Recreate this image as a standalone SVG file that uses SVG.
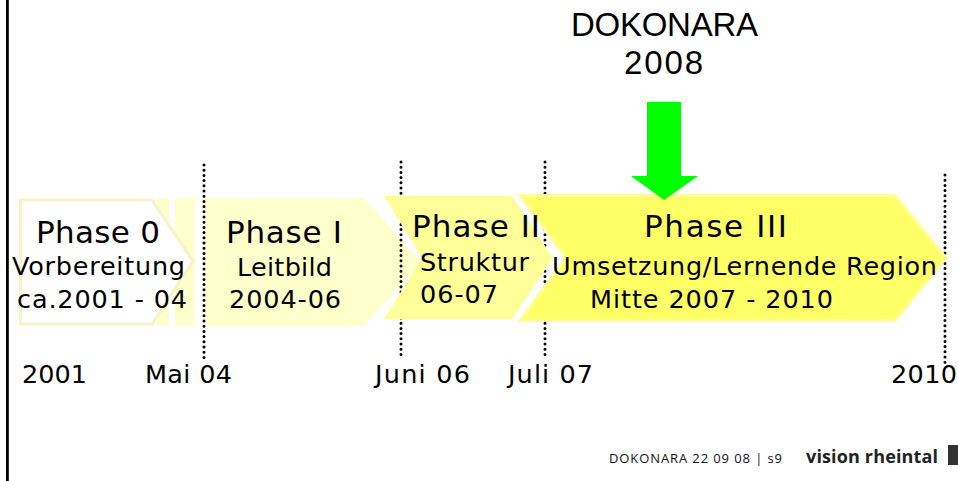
<svg xmlns="http://www.w3.org/2000/svg" width="958" height="481" viewBox="0 0 958 481">
<style>
text{font-family:"DejaVu Sans",Verdana,sans-serif;fill:#000}
.h{font-size:31px}.m{font-size:25.500px}.d{font-size:25.500px}
.a{font-family:"Liberation Sans",Arial,sans-serif;font-size:33px}
.dot{stroke:#000;stroke-width:3;stroke-linecap:round;stroke-dasharray:0 5.200;fill:none}
</style>
<rect width="958" height="481" fill="#fff"/>
<rect x="6" y="0" width="2.800" height="481" fill="#000"/>
<g id="phase-0">
<rect x="157" y="198" width="12" height="128" fill="#ffffcc"/>
<rect x="175" y="198" width="20" height="128" fill="#ffffcc"/>
<polygon points="20.500,200 152,200 193,261 152,324 20.500,324" fill="#fff" stroke="#f6f3c6" stroke-width="3"/>
<text class="h" x="36" y="243" textLength="124">Phase 0</text>
<text class="m" x="12" y="275" textLength="173">Vorbereitung</text>
<text class="m" x="17" y="308" textLength="170">ca.2001 - 04</text>
</g>
<g id="phase-1">
<polygon points="205,198 364,198 421,262 364,326 205,326" fill="#ffffcc"/>
</g>
<g id="connectors">
<line class="dot" x1="204" y1="165" x2="204" y2="360"/>
<line class="dot" x1="401" y1="162" x2="401" y2="358"/>
<line class="dot" x1="545" y1="162" x2="545" y2="358"/>
<line class="dot" x1="945" y1="175" x2="945" y2="364"/>
</g>
<g id="phase-2">
<polygon points="384,196 512,196 553,258 512,319 384,319 422,258" fill="#ffff99"/>
</g>
<g id="phase-3">
<polygon points="520,195.500 895,195.500 946,258 895,320.500 520,320.500 566,258" fill="#ffff66" stroke="#ffff99" stroke-width="3"/>
</g>
<g id="phase-labels">
<text class="h" x="226" y="243" textLength="116">Phase I</text>
<text class="m" x="237" y="276" textLength="95">Leitbild</text>
<text class="m" x="229" y="308" textLength="112">2004-06</text>
<text class="h" x="412" y="237" textLength="128">Phase II</text>
<text class="m" x="420" y="271" textLength="109">Struktur</text>
<text class="m" x="420" y="303" textLength="78">06-07</text>
<text class="h" x="644" y="237" textLength="143">Phase III</text>
<text class="m" x="552" y="275" textLength="385">Umsetzung/Lernende Region</text>
<text class="m" x="590" y="308" textLength="243">Mitte 2007 - 2010</text>
</g>
<g id="dokonara-marker">
<polygon points="647,102 681,102 681,176 698,176 664,200 631,176 647,176" fill="#00ff00"/>
<text class="a" x="571" y="36" textLength="187">DOKONARA</text>
<text class="a" x="624" y="74" textLength="79">2008</text>
</g>
<g id="dates">
<text class="d" x="22" y="383" textLength="65">2001</text>
<text class="d" x="145" y="383" textLength="87">Mai 04</text>
<text class="d" x="375" y="383" textLength="95">Juni 06</text>
<text class="d" x="508" y="383" textLength="85">Juli 07</text>
<text class="d" x="891" y="383" textLength="66">2010</text>
</g>
<g id="footer">
<text x="609" y="463" font-size="13" style="font-family:'Open Sans',sans-serif;fill:#111" textLength="173">DOKONARA 22 09 08 | s9</text>
<text x="806" y="463" font-size="18" font-weight="700" style="font-family:'Open Sans',sans-serif;fill:#222" textLength="132">vision rheintal</text>
<rect x="948" y="445" width="10" height="20" fill="#333"/>
</g>
</svg>
